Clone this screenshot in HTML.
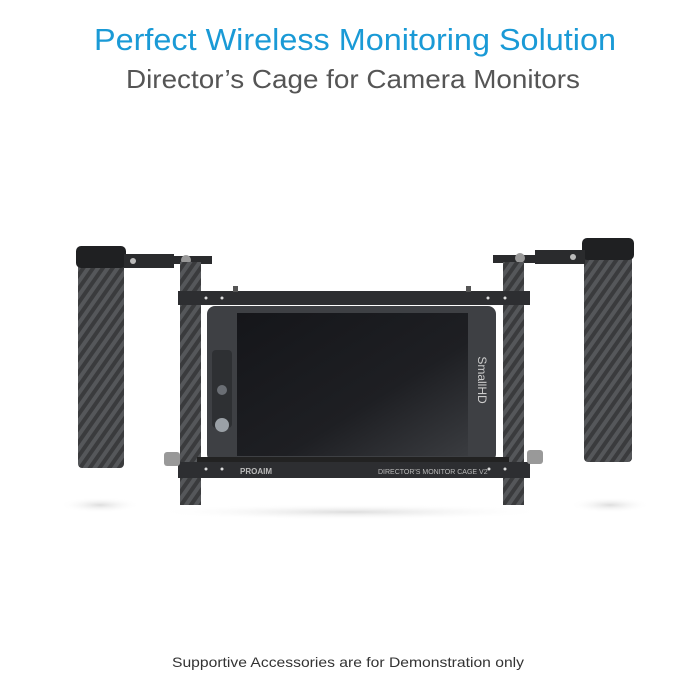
<!DOCTYPE html>
<html><head><meta charset="utf-8"><style>
html,body{margin:0;padding:0;background:#fff;}
svg{display:block}
</style></head><body>
<svg width="700" height="700" viewBox="0 0 700 700" xmlns="http://www.w3.org/2000/svg">
<defs>
<pattern id="cf" width="8" height="8" patternUnits="userSpaceOnUse" patternTransform="rotate(35)">
<rect width="8" height="8" fill="#3a3b3d"/>
<rect width="4" height="8" fill="#55575a"/>
</pattern>
<linearGradient id="scr" x1="0" y1="0" x2="1" y2="1">
<stop offset="0" stop-color="#15161a"/><stop offset="0.6" stop-color="#1e1f23"/><stop offset="1" stop-color="#3a3c40"/>
</linearGradient>
<radialGradient id="sh" cx="0.5" cy="0.5" r="0.5"><stop offset="0" stop-color="#ddd"/><stop offset="1" stop-color="#fff" stop-opacity="0"/></radialGradient>
</defs>
<rect width="700" height="700" fill="#fff"/>
<text x="355" y="50" text-anchor="middle" font-family="Liberation Sans, sans-serif" font-size="31" fill="#1a9ad6" textLength="522" lengthAdjust="spacingAndGlyphs">Perfect Wireless Monitoring Solution</text>
<text x="353" y="88" text-anchor="middle" font-family="Liberation Sans, sans-serif" font-size="26" fill="#555" textLength="454" lengthAdjust="spacingAndGlyphs">Director’s Cage for Camera Monitors</text>
<text x="348" y="667" text-anchor="middle" font-family="Liberation Sans, sans-serif" font-size="14" fill="#333" textLength="352" lengthAdjust="spacingAndGlyphs">Supportive Accessories are for Demonstration only</text>
<!-- shadows -->
<ellipse cx="350" cy="512" rx="200" ry="8" fill="url(#sh)"/>
<ellipse cx="100" cy="505" rx="40" ry="8" fill="url(#sh)"/>
<ellipse cx="610" cy="505" rx="40" ry="8" fill="url(#sh)"/>
<!-- handles -->
<rect x="78" y="262" width="46" height="206" rx="4" fill="url(#cf)"/>
<rect x="76" y="246" width="50" height="22" rx="5" fill="#1f2022"/>
<rect x="584" y="255" width="48" height="207" rx="4" fill="url(#cf)"/>
<rect x="582" y="238" width="52" height="22" rx="5" fill="#1f2022"/>
<!-- clamps -->
<rect x="124" y="254" width="50" height="14" fill="#2a2b2d"/>
<circle cx="133" cy="261" r="3" fill="#bbb"/>
<rect x="168" y="256" width="44" height="8" fill="#2a2b2d"/>
<circle cx="186" cy="260" r="5" fill="#999"/>
<rect x="535" y="250" width="50" height="14" fill="#2a2b2d"/>
<circle cx="573" cy="257" r="3" fill="#bbb"/>
<rect x="493" y="255" width="44" height="8" fill="#2a2b2d"/>
<circle cx="520" cy="258" r="5" fill="#999"/>
<!-- rods -->
<rect x="180" y="262" width="21" height="243" fill="url(#cf)"/>
<rect x="503" y="262" width="21" height="243" fill="url(#cf)"/>
<!-- top bar -->
<rect x="178" y="291" width="352" height="14" fill="#2d2e31"/>
<rect x="233" y="286" width="5" height="6" fill="#555"/>
<rect x="466" y="286" width="5" height="6" fill="#555"/>
<!-- monitor -->
<rect x="207" y="306" width="289" height="156" rx="8" fill="#3e4044"/>
<rect x="237" y="313" width="231" height="143" fill="url(#scr)"/>
<rect x="212" y="350" width="20" height="78" rx="4" fill="#2e3033"/>
<circle cx="222" cy="390" r="5" fill="#6a6e74"/>
<circle cx="222" cy="425" r="7" fill="#9aa0a6"/>
<text x="478" y="380" transform="rotate(90 478 380)" text-anchor="middle" font-family="Liberation Sans, sans-serif" font-size="12" fill="#ccc">SmallHD</text>
<!-- bottom bar -->
<rect x="197" y="457" width="312" height="6" fill="#222"/>
<rect x="178" y="462" width="352" height="16" fill="#2d2e31"/>
<rect x="164" y="452" width="16" height="14" rx="3" fill="#999"/>
<rect x="527" y="450" width="16" height="14" rx="3" fill="#999"/>
<text x="240" y="474" font-family="Liberation Sans, sans-serif" font-size="8" font-weight="bold" fill="#bbb">PROAIM</text>
<text x="378" y="474" font-family="Liberation Sans, sans-serif" font-size="7" fill="#bbb">DIRECTOR'S MONITOR CAGE V2</text>
<circle cx="206" cy="469" r="1.5" fill="#ddd"/><circle cx="222" cy="469" r="1.5" fill="#ddd"/>
<circle cx="489" cy="469" r="1.5" fill="#ddd"/><circle cx="505" cy="469" r="1.5" fill="#ddd"/>
<circle cx="206" cy="298" r="1.5" fill="#ddd"/><circle cx="222" cy="298" r="1.5" fill="#ddd"/>
<circle cx="488" cy="298" r="1.5" fill="#ddd"/><circle cx="505" cy="298" r="1.5" fill="#ddd"/>
</svg>
</body></html>
